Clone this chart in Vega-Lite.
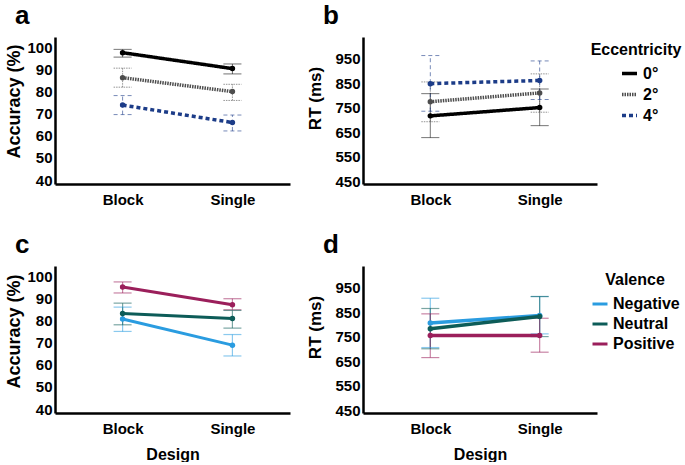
{
  "$schema": "https://vega.github.io/schema/vega-lite/v6.json",
  "padding": {"left": 5, "top": 3, "right": 0, "bottom": 0},
  "background": "#ffffff",
  "config": {
    "font": "Liberation Sans",
    "view": {"stroke": null},
    "axis": {"grid": false, "ticks": false, "domainColor": "#000000", "domainWidth": 2.5, "labelFont": "Liberation Sans", "labelFontWeight": "bold", "labelFontSize": 15, "labelColor": "#000000", "titleFont": "Liberation Sans", "titleFontWeight": "bold", "titleColor": "#000000", "labelOverlap": false},
    "axisX": {"labelPadding": 8, "labelAngle": 0, "titleFontSize": 16, "titlePadding": 10},
    "axisY": {"labelPadding": 3, "titlePadding": 3, "titleFontSize": 18},
    "title": {"fontSize": 26, "fontWeight": "bold", "anchor": "start", "frame": "group", "color": "#000000", "dx": -40, "offset": 8, "font": "Liberation Sans"},
    "legend": {"titleFont": "Liberation Sans", "labelFont": "Liberation Sans", "titleFontWeight": "bold", "labelFontWeight": "bold", "titleFontSize": 16, "labelFontSize": 16, "titleColor": "#000000", "labelColor": "#000000", "symbolType": "stroke", "titleAnchor": "middle", "symbolOpacity": 1}
  },
  "datasets": {
    "accEcc": [
      {"Design": "Block", "Eccentricity": "0°", "mean": 97.6, "lo": 95.6, "hi": 99.1},
      {"Design": "Block", "Eccentricity": "2°", "mean": 86.3, "lo": 82.0, "hi": 90.6},
      {"Design": "Block", "Eccentricity": "4°", "mean": 73.9, "lo": 69.6, "hi": 78.2},
      {"Design": "Single", "Eccentricity": "0°", "mean": 90.4, "lo": 88.0, "hi": 92.5},
      {"Design": "Single", "Eccentricity": "2°", "mean": 80.0, "lo": 76.0, "hi": 83.3},
      {"Design": "Single", "Eccentricity": "4°", "mean": 66.0, "lo": 62.2, "hi": 69.4}
    ],
    "rtEcc": [
      {"Design": "Block", "Eccentricity": "0°", "mean": 717, "lo": 628, "hi": 808},
      {"Design": "Block", "Eccentricity": "2°", "mean": 775, "lo": 693, "hi": 856},
      {"Design": "Block", "Eccentricity": "4°", "mean": 849, "lo": 736, "hi": 964},
      {"Design": "Single", "Eccentricity": "0°", "mean": 751, "lo": 677, "hi": 827},
      {"Design": "Single", "Eccentricity": "2°", "mean": 811, "lo": 732, "hi": 889},
      {"Design": "Single", "Eccentricity": "4°", "mean": 862, "lo": 784, "hi": 942}
    ],
    "accVal": [
      {"Design": "Block", "Valence": "Negative", "mean": 80.7, "lo": 75.1, "hi": 86.1},
      {"Design": "Block", "Valence": "Neutral", "mean": 83.2, "lo": 78.1, "hi": 87.9},
      {"Design": "Block", "Valence": "Positive", "mean": 95.2, "lo": 92.5, "hi": 97.5},
      {"Design": "Single", "Valence": "Negative", "mean": 68.9, "lo": 64.0, "hi": 73.7},
      {"Design": "Single", "Valence": "Neutral", "mean": 81.0, "lo": 76.6, "hi": 84.6},
      {"Design": "Single", "Valence": "Positive", "mean": 87.2, "lo": 84.9, "hi": 89.9}
    ],
    "rtVal": [
      {"Design": "Block", "Valence": "Negative", "mean": 807, "lo": 706, "hi": 908},
      {"Design": "Block", "Valence": "Neutral", "mean": 783, "lo": 701, "hi": 866},
      {"Design": "Block", "Valence": "Positive", "mean": 755, "lo": 665, "hi": 844},
      {"Design": "Single", "Valence": "Negative", "mean": 837, "lo": 762, "hi": 915},
      {"Design": "Single", "Valence": "Neutral", "mean": 833, "lo": 751, "hi": 915},
      {"Design": "Single", "Valence": "Positive", "mean": 755, "lo": 687, "hi": 826}
    ]
  },
  "resolve": {"scale": {"color": "independent", "strokeDash": "independent"}},
  "columns": 2,
  "spacing": {"row": 25, "column": 16},
  "concat": [
    {
      "title": "a",
      "width": 235, "height": 147,
      "data": {"name": "accEcc"},
      "encoding": {
        "x": {"field": "Design", "type": "ordinal", "title": null, "scale": {"type": "point", "padding": 0.57, "align": 0.54}},
        "color": {"field": "Eccentricity", "type": "nominal", "scale": {"domain": ["0°", "2°", "4°"], "range": ["#000000", "#4d4d4d", "#1c3c88"]}, "legend": null},
        "strokeDash": {"field": "Eccentricity", "type": "nominal", "scale": {"domain": ["0°", "2°", "4°"], "range": [[1, 0], [1.5, 1], [4, 3]]}, "legend": null}
      },
      "layer": [
        {"mark": {"type": "rule", "strokeWidth": 1, "opacity": 0.6}, "encoding": {"y": {"field": "lo", "type": "quantitative", "title": "Accuracy (%)", "scale": {"domain": [38.2, 104.7], "nice": false, "zero": false}, "axis": {"values": [40, 50, 60, 70, 80, 90, 100], "titleY": 64, "labelOverlap": false}}, "y2": {"field": "hi"}}},
        {"mark": {"type": "rule", "strokeWidth": 1, "opacity": 0.6, "xOffset": -9, "x2Offset": 9}, "encoding": {"x2": {"field": "Design"}, "y": {"field": "lo", "type": "quantitative", "title": "Accuracy (%)", "axis": {"values": [40, 50, 60, 70, 80, 90, 100], "titleY": 64, "labelOverlap": false}}}},
        {"mark": {"type": "rule", "strokeWidth": 1, "opacity": 0.6, "xOffset": -9, "x2Offset": 9}, "encoding": {"x2": {"field": "Design"}, "y": {"field": "hi", "type": "quantitative", "title": "Accuracy (%)", "axis": {"values": [40, 50, 60, 70, 80, 90, 100], "titleY": 64, "labelOverlap": false}}}},
        {"mark": {"type": "line", "strokeWidth": 3.5}, "encoding": {"y": {"field": "mean", "type": "quantitative", "title": "Accuracy (%)", "axis": {"values": [40, 50, 60, 70, 80, 90, 100], "titleY": 64, "labelOverlap": false}}}},
        {"mark": {"type": "point", "filled": true, "size": 30, "opacity": 1}, "encoding": {"y": {"field": "mean", "type": "quantitative", "title": "Accuracy (%)", "axis": {"values": [40, 50, 60, 70, 80, 90, 100], "titleY": 64, "labelOverlap": false}}}}
      ]
    },
    {
      "title": "b",
      "width": 234, "height": 147,
      "data": {"name": "rtEcc"},
      "encoding": {
        "x": {"field": "Design", "type": "ordinal", "title": null, "scale": {"type": "point", "padding": 0.57, "align": 0.54}},
        "color": {"field": "Eccentricity", "type": "nominal", "title": "Eccentricity", "scale": {"domain": ["0°", "2°", "4°"], "range": ["#000000", "#4d4d4d", "#1c3c88"]}, "legend": {"symbolType": "stroke", "symbolSize": 225, "symbolStrokeWidth": 3.5, "symbolOffset": 7, "rowPadding": 3, "titlePadding": 6, "padding": 5, "offset": -11}},
        "strokeDash": {"field": "Eccentricity", "type": "nominal", "title": "Eccentricity", "scale": {"domain": ["0°", "2°", "4°"], "range": [[1, 0], [1.5, 1], [4, 3]]}, "legend": {"symbolType": "stroke", "symbolSize": 225, "symbolStrokeWidth": 3.5, "symbolOffset": 7, "rowPadding": 3, "titlePadding": 6, "padding": 5, "offset": -11}}
      },
      "layer": [
        {"mark": {"type": "rule", "strokeWidth": 1, "opacity": 0.6}, "encoding": {"y": {"field": "lo", "type": "quantitative", "title": "RT (ms)", "scale": {"domain": [438, 1040], "nice": false, "zero": false}, "axis": {"values": [450, 550, 650, 750, 850, 950], "titleFontSize": 17, "titlePadding": 10, "titleY": 61, "labelOverlap": false}}, "y2": {"field": "hi"}}},
        {"mark": {"type": "rule", "strokeWidth": 1, "opacity": 0.6, "xOffset": -9, "x2Offset": 9}, "encoding": {"x2": {"field": "Design"}, "y": {"field": "lo", "type": "quantitative", "title": "RT (ms)", "axis": {"values": [450, 550, 650, 750, 850, 950], "titleFontSize": 17, "titlePadding": 10, "titleY": 61, "labelOverlap": false}}}},
        {"mark": {"type": "rule", "strokeWidth": 1, "opacity": 0.6, "xOffset": -9, "x2Offset": 9}, "encoding": {"x2": {"field": "Design"}, "y": {"field": "hi", "type": "quantitative", "title": "RT (ms)", "axis": {"values": [450, 550, 650, 750, 850, 950], "titleFontSize": 17, "titlePadding": 10, "titleY": 61, "labelOverlap": false}}}},
        {"mark": {"type": "line", "strokeWidth": 3.5}, "encoding": {"y": {"field": "mean", "type": "quantitative", "title": "RT (ms)", "axis": {"values": [450, 550, 650, 750, 850, 950], "titleFontSize": 17, "titlePadding": 10, "titleY": 61, "labelOverlap": false}}}},
        {"mark": {"type": "point", "filled": true, "size": 30, "opacity": 1}, "encoding": {"y": {"field": "mean", "type": "quantitative", "title": "RT (ms)", "axis": {"values": [450, 550, 650, 750, 850, 950], "titleFontSize": 17, "titlePadding": 10, "titleY": 61, "labelOverlap": false}}}}
      ]
    },
    {
      "title": "c",
      "width": 235, "height": 147,
      "data": {"name": "accVal"},
      "encoding": {
        "x": {"field": "Design", "type": "ordinal", "title": "Design", "scale": {"type": "point", "padding": 0.57, "align": 0.54}},
        "color": {"field": "Valence", "type": "nominal", "scale": {"domain": ["Negative", "Neutral", "Positive"], "range": ["#2a9ce0", "#0d5c58", "#9b1f5b"]}, "legend": null}
      },
      "layer": [
        {"mark": {"type": "rule", "strokeWidth": 1.2, "opacity": 0.55}, "encoding": {"y": {"field": "lo", "type": "quantitative", "title": "Accuracy (%)", "scale": {"domain": [38.2, 104.7], "nice": false, "zero": false}, "axis": {"values": [40, 50, 60, 70, 80, 90, 100], "titleY": 65, "labelOverlap": false}}, "y2": {"field": "hi"}}},
        {"mark": {"type": "rule", "strokeWidth": 1.2, "opacity": 0.55, "xOffset": -9, "x2Offset": 9}, "encoding": {"x2": {"field": "Design"}, "y": {"field": "lo", "type": "quantitative", "title": "Accuracy (%)", "axis": {"values": [40, 50, 60, 70, 80, 90, 100], "titleY": 65, "labelOverlap": false}}}},
        {"mark": {"type": "rule", "strokeWidth": 1.2, "opacity": 0.55, "xOffset": -9, "x2Offset": 9}, "encoding": {"x2": {"field": "Design"}, "y": {"field": "hi", "type": "quantitative", "title": "Accuracy (%)", "axis": {"values": [40, 50, 60, 70, 80, 90, 100], "titleY": 65, "labelOverlap": false}}}},
        {"mark": {"type": "line", "strokeWidth": 3}, "encoding": {"y": {"field": "mean", "type": "quantitative", "title": "Accuracy (%)", "axis": {"values": [40, 50, 60, 70, 80, 90, 100], "titleY": 65, "labelOverlap": false}}}},
        {"mark": {"type": "point", "filled": true, "size": 30, "opacity": 1}, "encoding": {"y": {"field": "mean", "type": "quantitative", "title": "Accuracy (%)", "axis": {"values": [40, 50, 60, 70, 80, 90, 100], "titleY": 65, "labelOverlap": false}}}}
      ]
    },
    {
      "title": "d",
      "width": 234, "height": 147,
      "data": {"name": "rtVal"},
      "encoding": {
        "x": {"field": "Design", "type": "ordinal", "title": "Design", "scale": {"type": "point", "padding": 0.57, "align": 0.54}},
        "color": {"field": "Valence", "type": "nominal", "title": "Valence", "scale": {"domain": ["Negative", "Neutral", "Positive"], "range": ["#2a9ce0", "#0d5c58", "#9b1f5b"]}, "legend": {"symbolType": "stroke", "symbolSize": 225, "symbolStrokeWidth": 3, "rowPadding": 3, "titlePadding": 7, "padding": 6, "offset": -12}}
      },
      "layer": [
        {"mark": {"type": "rule", "strokeWidth": 1.2, "opacity": 0.55}, "encoding": {"y": {"field": "lo", "type": "quantitative", "title": "RT (ms)", "scale": {"domain": [438, 1040], "nice": false, "zero": false}, "axis": {"values": [450, 550, 650, 750, 850, 950], "titleFontSize": 17, "titlePadding": 10, "titleY": 61, "labelOverlap": false}}, "y2": {"field": "hi"}}},
        {"mark": {"type": "rule", "strokeWidth": 1.2, "opacity": 0.55, "xOffset": -9, "x2Offset": 9}, "encoding": {"x2": {"field": "Design"}, "y": {"field": "lo", "type": "quantitative", "title": "RT (ms)", "axis": {"values": [450, 550, 650, 750, 850, 950], "titleFontSize": 17, "titlePadding": 10, "titleY": 61, "labelOverlap": false}}}},
        {"mark": {"type": "rule", "strokeWidth": 1.2, "opacity": 0.55, "xOffset": -9, "x2Offset": 9}, "encoding": {"x2": {"field": "Design"}, "y": {"field": "hi", "type": "quantitative", "title": "RT (ms)", "axis": {"values": [450, 550, 650, 750, 850, 950], "titleFontSize": 17, "titlePadding": 10, "titleY": 61, "labelOverlap": false}}}},
        {"mark": {"type": "line", "strokeWidth": 3.5}, "encoding": {"y": {"field": "mean", "type": "quantitative", "title": "RT (ms)", "axis": {"values": [450, 550, 650, 750, 850, 950], "titleFontSize": 17, "titlePadding": 10, "titleY": 61, "labelOverlap": false}}}},
        {"mark": {"type": "point", "filled": true, "size": 30, "opacity": 1}, "encoding": {"y": {"field": "mean", "type": "quantitative", "title": "RT (ms)", "axis": {"values": [450, 550, 650, 750, 850, 950], "titleFontSize": 17, "titlePadding": 10, "titleY": 61, "labelOverlap": false}}}}
      ]
    }
  ]
}
